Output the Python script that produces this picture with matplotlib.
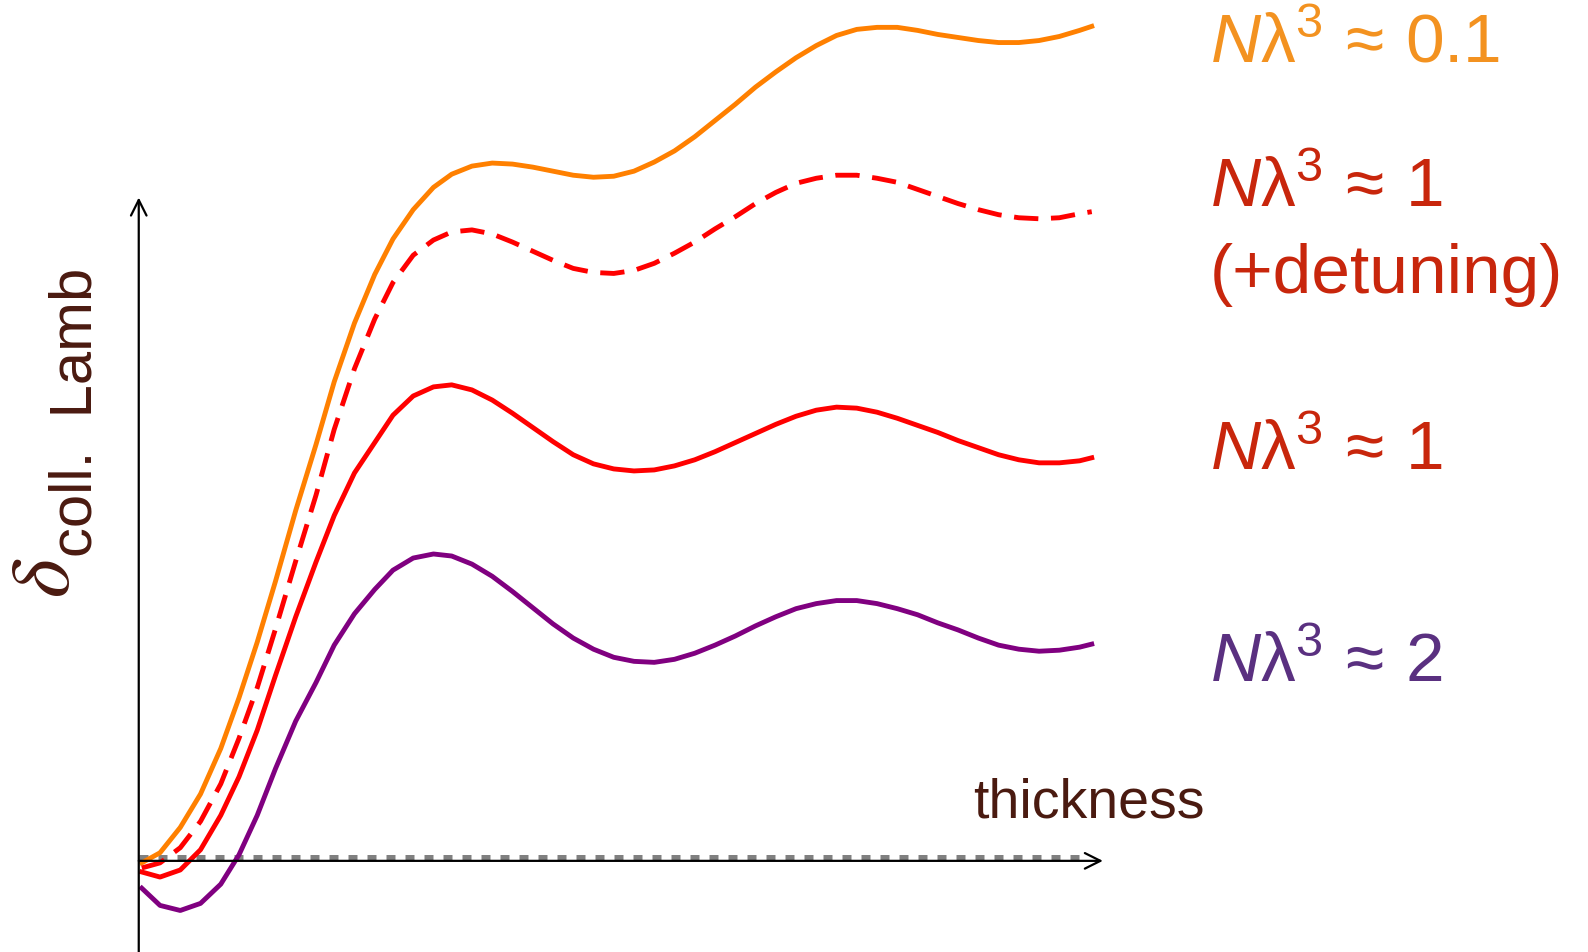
import numpy as np
import matplotlib.pyplot as plt

plt.rcParams['font.family'] = ['Liberation Sans', 'DejaVu Sans']
plt.rcParams['mathtext.fontset'] = 'custom'
plt.rcParams['mathtext.rm'] = 'Liberation Sans'
plt.rcParams['mathtext.it'] = 'Liberation Sans:italic'

# thickness samples (arbitrary units)
thickness = [0.03, 0.21, 0.41, 0.61, 0.81, 0.99, 1.17, 1.35, 1.55, 1.75, 1.93, 2.13, 2.33, 2.51, 2.71,
             2.91, 3.09, 3.29, 3.49, 3.69, 3.89, 4.09, 4.29, 4.49, 4.69, 4.89, 5.09, 5.29, 5.49, 5.69,
             5.89, 6.09, 6.29, 6.49, 6.69, 6.89, 7.09, 7.29, 7.49, 7.69, 7.89, 8.09, 8.29, 8.49, 8.69,
             8.89, 9.09, 9.29, 9.41]

# collective Lamb shift (arbitrary units)
shift_01 = [-0.02, 0.08, 0.33, 0.66, 1.11, 1.61, 2.16, 2.76, 3.46, 4.11, 4.73, 5.31, 5.79, 6.14, 6.43,
            6.65, 6.78, 6.86, 6.89, 6.88, 6.85, 6.81, 6.77, 6.75, 6.76, 6.81, 6.90, 7.01, 7.15, 7.31,
            7.47, 7.64, 7.79, 7.93, 8.05, 8.15, 8.21, 8.23, 8.23, 8.20, 8.16, 8.13, 8.10, 8.08, 8.08,
            8.10, 8.14, 8.20, 8.24]
shift_1_det = [-0.07, -0.02, 0.13, 0.39, 0.76, 1.21, 1.71, 2.29, 2.96, 3.61, 4.26, 4.86, 5.35, 5.71, 5.98,
               6.13, 6.21, 6.23, 6.19, 6.11, 6.02, 5.93, 5.85, 5.81, 5.80, 5.83, 5.90, 6.00, 6.11, 6.24,
               6.36, 6.49, 6.60, 6.69, 6.74, 6.77, 6.77, 6.74, 6.70, 6.63, 6.56, 6.49, 6.43, 6.38, 6.35,
               6.34, 6.35, 6.39, 6.41]
shift_1 = [-0.11, -0.16, -0.09, 0.11, 0.45, 0.83, 1.29, 1.83, 2.41, 2.95, 3.41, 3.83, 4.13, 4.40, 4.59,
           4.68, 4.70, 4.65, 4.55, 4.42, 4.28, 4.14, 4.01, 3.92, 3.87, 3.85, 3.86, 3.90, 3.96, 4.04,
           4.13, 4.22, 4.31, 4.39, 4.45, 4.48, 4.47, 4.43, 4.37, 4.30, 4.23, 4.15, 4.08, 4.01, 3.96,
           3.93, 3.93, 3.95, 3.98]
shift_2 = [-0.27, -0.44, -0.49, -0.42, -0.23, 0.06, 0.45, 0.91, 1.38, 1.76, 2.13, 2.44, 2.68, 2.87, 2.99,
           3.03, 3.01, 2.93, 2.81, 2.66, 2.50, 2.34, 2.20, 2.09, 2.01, 1.97, 1.96, 1.99, 2.05, 2.13,
           2.22, 2.32, 2.41, 2.49, 2.54, 2.57, 2.57, 2.54, 2.49, 2.43, 2.35, 2.28, 2.20, 2.13, 2.09,
           2.07, 2.08, 2.11, 2.14]

fig = plt.figure(figsize=(15.88, 9.53), dpi=100)
ax = fig.add_axes([0, 0, 1, 1])
ax.set_xlim(-1.37, 14.31)
ax.set_ylim(-0.90, 8.51)
ax.axis('off')

# axes arrows
arr = dict(arrowstyle='->', lw=1.6, color='black', mutation_scale=28, shrinkA=0, shrinkB=0)
ax.annotate('', xy=(0, 6.55), xytext=(0, -0.90), arrowprops=arr)
ax.annotate('', xy=(9.52, 0), xytext=(0, 0), arrowprops=arr)

# zero reference
ax.plot([0, 9.38], [0.04, 0.04], color='#808080', lw=3.6, linestyle=(0, (1.8, 2.0)),
        solid_capstyle='butt', dash_capstyle='butt')

lw = 3.5
ax.plot(thickness, shift_01, color='#ff8000', lw=lw)
ax.plot(thickness, shift_1_det, color='#ff0000', lw=lw, linestyle=(0, (5, 2.6)))
ax.plot(thickness, shift_1, color='#ff0000', lw=lw)
ax.plot(thickness, shift_2, color='#800080', lw=lw)

# labels
fs = 50
lab = r'$\mathit{N}\mathrm{\lambda}^{3}\,\approx\,\mathrm{%s}$'
fig.text(0.762, 0.934, lab % '0.1', color='#f39220', fontsize=fs, ha='left', va='baseline')
fig.text(0.762, 0.783, lab % '1', color='#c8260c', fontsize=fs, ha='left', va='baseline')
fig.text(0.762, 0.6926, '(+detuning)', color='#c8260c', fontsize=fs, ha='left', va='baseline')
fig.text(0.762, 0.507, lab % '1', color='#c8260c', fontsize=fs, ha='left', va='baseline')
fig.text(0.762, 0.2844, lab % '2', color='#5a3080', fontsize=fs, ha='left', va='baseline')

fig.text(0.6127, 0.1417, 'thickness', color='#4a1a10', fontsize=40, ha='left', va='baseline')
fig.text(0.0579, 0.4155, 'coll.  Lamb', color='#4a1a10', fontsize=43, rotation=90,
         rotation_mode='anchor', ha='left', va='baseline')
fig.text(0.0296, 0.3935, r'$\delta$', color='#4a1a10', fontsize=60, rotation=90,
         ha='center', va='center', math_fontfamily='stix')

plt.savefig('out.png')
